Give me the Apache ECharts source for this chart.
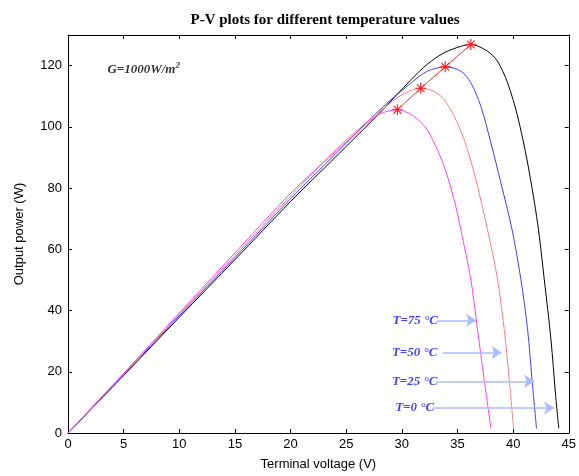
<!DOCTYPE html>
<html><head><meta charset="utf-8">
<script src="https://cdn.jsdelivr.net/npm/echarts@6/dist/echarts.min.js"></script>
<style>html,body{margin:0;padding:0;background:#fff}#c{width:579px;height:476px}</style>
</head><body><div id="c"></div>
<script>
// Data: [voltage (V), power (W)]
const curveT0 = [[0,0],[5,18.8],[10,37.8],[15,56.6],[20,75.6],[24,90],[28,104.5],[30.85,115.5],[32.3,120.5],[33.8,124.2],[35.3,126.3],[36.2,126.9],[37.7,124.7],[38.6,121.4],[39.5,114.4],[40.4,103.5],[41.3,88.2],[42.2,68.5],[42.8,50.1],[43.4,30.5],[43.8,13.1],[44.1,1.5]];
const curveT25 = [[0,0],[5,19],[10,38.3],[15,57.3],[20,76.5],[24,91],[28,105.5],[30.85,114.4],[32.3,118.2],[33.9,119.6],[35.3,118.2],[36.2,114.4],[37.1,106.7],[38.0,94.8],[38.9,81.7],[39.9,66.5],[40.7,50.1],[41.3,33.8],[41.7,17.4],[42.1,1.5]];
const curveT50 = [[0,0],[5,19.3],[10,38.8],[15,58],[20,77.4],[24,92.3],[26.5,100.5],[28.8,107.3],[30.3,111.1],[31.7,112.6],[32.9,111.6],[33.8,108.9],[34.7,103.5],[35.6,95.8],[36.6,83.5],[37.7,66.4],[38.6,50.1],[39.2,33.8],[39.65,17.4],[40.04,1.5]];
const curveT75 = [[0,0],[5,19.5],[10,39.2],[15,58.8],[20,78.3],[23.4,89.8],[26.4,99.6],[27.9,104],[29.6,105.6],[30.85,104],[32.05,100.2],[32.9,94.8],[33.8,87.1],[34.7,76.2],[35.3,66.4],[36.2,50.1],[36.8,33.8],[37.4,17.4],[38.0,1.5]];
const mppPoints = [[29.6,105.6],[31.7,112.6],[33.9,119.6],[36.2,126.9]];
// annotation labels and arrows
const tempLabels = ['T=75 °C','T=50 °C','T=25 °C','T=0 °C'];
const labelV = [31.2, 31.15, 31.15, 31.15];
const arrowFrom = [33.17, 33.69, 33.09, 32.79];
const arrowTo = [36.66, 38.96, 41.89, 43.68];
const arrowP = [36.8, 26.3, 16.9, 8.2];
const irradianceLabel = [6.8, 118.7];
const xTicks = {min:0, max:45, interval:5};
const yTicks = {min:0, max:130, interval:20};

const chart = echarts.init(document.getElementById('c'), null, {renderer:'canvas'});
const asterisk = 'path://M-1,-10L1,-10L1,10L-1,10Z M-10,-1L10,-1L10,1L-10,1Z M-6.3,-7.7L7.7,6.3L6.3,7.7L-7.7,-6.3Z M-7.7,6.3L6.3,-7.7L7.7,-6.3L-6.3,7.7Z';
const axisBase = {
  axisLine:{show:true,onZero:false,lineStyle:{color:'#000',width:1}},
  axisTick:{show:true,inside:true,length:4,lineStyle:{color:'#000'}},
  splitLine:{show:false}
};
const lineSeries = (name, data, color) => ({
  name, type:'line', data, xAxisIndex:0, yAxisIndex:0,
  showSymbol:false, smooth:0.3,
  lineStyle:{color, width:1}, itemStyle:{color}, z:3
});
const arrowLines = tempLabels.map((t,i)=>[{coord:[arrowFrom[i],arrowP[i]]},{coord:[arrowTo[i],arrowP[i]]}]);
const labelData = tempLabels.map((t,i)=>({value:[labelV[i],arrowP[i]], name:t}));

chart.setOption({
  animation:false,
  backgroundColor:'#fff',
  title:{text:'P-V plots for different temperature values', left:320, top:8, textAlign:'center',
    textStyle:{fontFamily:'Liberation Serif', fontWeight:'bold', fontSize:15, color:'#000'}},
  grid:{left:68, right:7.5, top:35, bottom:42.7, containLabel:false},
  xAxis:[
    Object.assign({type:'value', position:'bottom', min:xTicks.min, max:xTicks.max, interval:xTicks.interval,
      name:'Terminal voltage (V)', nameLocation:'middle', nameGap:25,
      nameTextStyle:{fontFamily:'Liberation Sans', fontSize:13, color:'#000'},
      axisLabel:{fontFamily:'Liberation Sans', fontSize:13, color:'#000', margin:5}}, axisBase),
    Object.assign({type:'value', position:'top', min:xTicks.min, max:xTicks.max, interval:xTicks.interval,
      axisLabel:{show:false}}, axisBase)
  ],
  yAxis:[
    Object.assign({type:'value', position:'left', min:yTicks.min, max:yTicks.max, interval:yTicks.interval,
      name:'Output power (W)', nameLocation:'middle', nameGap:42,
      nameTextStyle:{fontFamily:'Liberation Sans', fontSize:13, color:'#000'},
      axisLabel:{fontFamily:'Liberation Sans', fontSize:13, color:'#000', margin:6, showMaxLabel:false}}, axisBase),
    Object.assign({type:'value', position:'right', min:yTicks.min, max:yTicks.max, interval:yTicks.interval,
      axisLabel:{show:false}}, axisBase)
  ],
  series:[
    lineSeries('T=0', curveT0, '#000000'),
    lineSeries('T=25', curveT25, '#3f3fff'),
    lineSeries('T=50', curveT50, '#ff7f7f'),
    lineSeries('T=75', curveT75, '#ff3fff'),
    {name:'MPP', type:'line', data:mppPoints, symbol:asterisk, symbolSize:11, showSymbol:true,
      lineStyle:{color:'#ff2a2a', width:1}, itemStyle:{color:'#ff1a1a'}, z:5,
      markLine:{silent:true, symbol:['none','arrow'], symbolSize:[10,10], label:{show:false},
        lineStyle:{color:'#a9bdfc', width:1.5, type:'solid'}, data:arrowLines}},
    {name:'labels', type:'scatter', data:labelData, symbolSize:0, z:6,
      label:{show:true, position:'inside', formatter:p=>p.name, color:'#1010ff',
        fontFamily:'Liberation Serif', fontStyle:'italic', fontWeight:'bold', fontSize:13}},
    {name:'G', type:'scatter', data:[irradianceLabel], symbolSize:0, z:6,
      label:{show:true, position:'inside', formatter:'{a|G=1000W/m}{s|2}',
        rich:{a:{fontFamily:'Liberation Serif', fontStyle:'italic', fontWeight:'bold', fontSize:13, color:'#000'},
              s:{fontFamily:'Liberation Serif', fontStyle:'italic', fontWeight:'bold', fontSize:9, color:'#000', verticalAlign:'top', padding:[0,0,8,0]}}}}
  ]
});
</script></body></html>
